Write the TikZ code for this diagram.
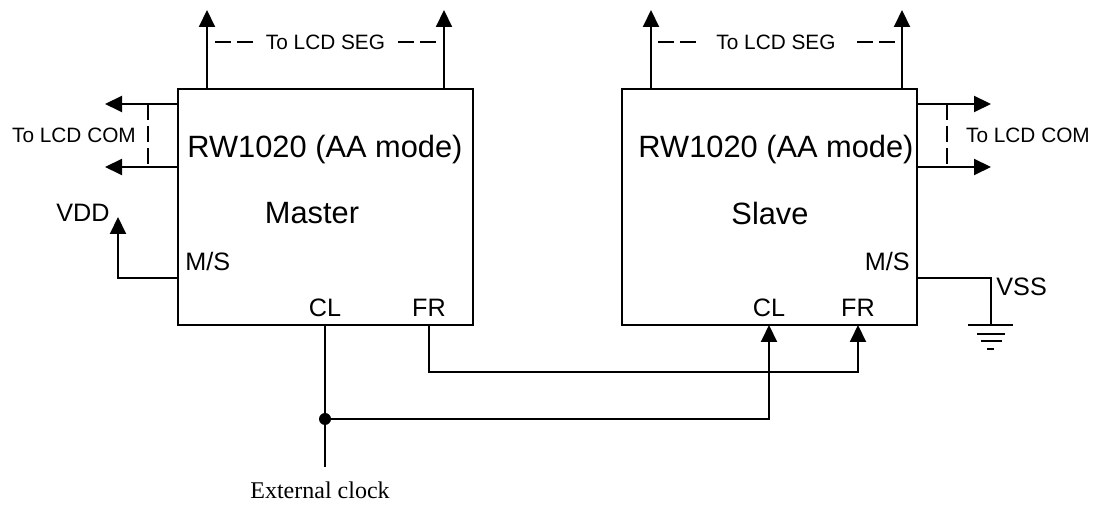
\documentclass[tikz,border=0pt]{standalone}
\usepackage{fontspec}
\setmainfont{Liberation Sans}
\newfontfamily\capfont{Liberation Serif}
\usetikzlibrary{arrows.meta,calc}

\begin{document}
\begin{tikzpicture}[x=0.5pt,y=-0.5pt,>={Triangle[length=8.5pt,width=8pt]},
    line join=miter,
    wire/.style={line width=1pt},
    hidden/.style={dashed,dash pattern=on 8pt off 3pt,line width=1pt},
    chip/.style={draw,line width=1pt,minimum width=147.5pt,
      minimum height=118pt,inner sep=0pt},
    title/.style={font=\fontsize{15.4}{18}\selectfont,inner sep=0pt},
    pin/.style={font=\fontsize{12.6}{15}\selectfont,inner sep=0pt},
    small/.style={font=\fontsize{10.4}{12}\selectfont,inner sep=0pt}]
  \useasboundingbox (0,0) rectangle (1097,506);

  % The two chips with their titles.
  \node[chip] (master) at (325.5,207) {};
  \node[chip] (slave) at (769,207) {};
  \node[title] (mname) at (325,150) {RW1020 (AA mode)};
  \node[title] (mrole) at (312,213) {Master};
  \node[title] (sname) at (776,150) {RW1020 (AA mode)};
  \node[title] (srole) at (770,213) {Slave};

  % Pin names inside the boxes.
  \node[pin,anchor=west] (mms) at (185,261) {M/S};
  \node[pin] (mcl) at (325,308) {CL};
  \node[pin] (mfr) at (429,308) {FR};
  \node[pin,anchor=east] (sms) at (910,261) {M/S};
  \node[pin] (scl) at (769,308) {CL};
  \node[pin] (sfr) at (858,308) {FR};

  % Pins on the box edges and the free ends of their wires.
  \coordinate (mseg1) at (207,89);  \coordinate (mseg1t) at (207,10);
  \coordinate (mseg2) at (444,89);  \coordinate (mseg2t) at (444,10);
  \coordinate (sseg1) at (651,89);  \coordinate (sseg1t) at (651,10);
  \coordinate (sseg2) at (902,89);  \coordinate (sseg2t) at (902,10);
  \coordinate (mcom1) at (178,104); \coordinate (mcom1t) at (105,104);
  \coordinate (mcom2) at (178,167); \coordinate (mcom2t) at (105,167);
  \coordinate (scom1) at (917,104); \coordinate (scom1t) at (991,104);
  \coordinate (scom2) at (917,167); \coordinate (scom2t) at (991,167);
  \coordinate (mmsp) at (178,278);  \coordinate (vddt) at (118,217);
  \coordinate (smsp) at (917,278);  \coordinate (gnd) at (991,325);
  \coordinate (mclp) at (325,325);  \coordinate (mfrp) at (429,325);
  \coordinate (sclp) at (769,325);  \coordinate (sfrp) at (858,325);
  \coordinate (clkend) at (325,467);
  \coordinate (clkdot) at (325,419);

  % Segment and common outputs.
  \foreach \p in {mseg1,mseg2,sseg1,sseg2,mcom1,mcom2,scom1,scom2}
    \draw[wire,->] (\p) -- (\p t);
  \node[small] (msegtxt) at (325.5,42) {To LCD SEG};
  \node[small] (ssegtxt) at (776,42) {To LCD SEG};
  \draw[hidden] (215,42) -- (253,42);
  \draw[hidden] (398,42) -- (437,42);
  \draw[hidden] (658,42) -- (696,42);
  \draw[hidden] (857,42) -- (895,42);
  \draw[hidden] (148,104) -- (148,167);
  \draw[hidden] (947,104) -- (947,167);
  \node[small] (mcomtxt) at (74,135) {To LCD COM};
  \node[small] (scomtxt) at (1028,135) {To LCD COM};

  % Master/slave selection.
  \draw[wire,->] (mmsp) -| (vddt);
  \node[pin,anchor=east] (vdd) at (110,213) {VDD};
  \draw[wire] (smsp) -| (gnd);
  \node[pin,anchor=west] (vss) at (996,287) {VSS};
  \draw[wire] (968,325) -- (1013,325);
  \draw[wire] (977,334) -- (1005,334);
  \draw[wire] (981,341) -- (1002,341);
  \draw[wire] (987,349) -- (994,349);

  % Frame and clock lines between the chips.
  \draw[wire,->] (mfrp) |- (858,372) -- (sfrp);
  \draw[wire] (mclp) -- (clkend);
  \draw[wire,->] (clkdot) -| (sclp);
  \fill (clkdot) circle (6);
  \node[font=\capfont\fontsize{12}{14}\selectfont,inner sep=0pt]
    (clk) at (320,490) {External clock};
\end{tikzpicture}
\end{document}
